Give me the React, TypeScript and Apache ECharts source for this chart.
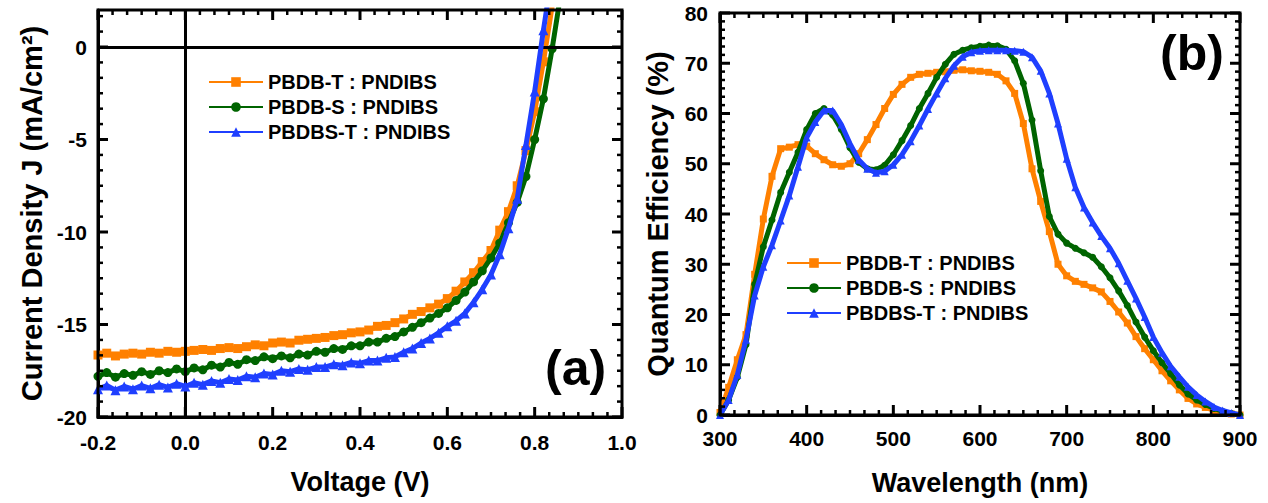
import React, { useEffect, useRef } from 'react';
import * as echarts from 'echarts';

const FONT = "'Liberation Sans', Arial, Helvetica, sans-serif";

const seriesNames = ['PBDB-T : PNDIBS', 'PBDB-S : PNDIBS', 'PBDBS-T : PNDIBS'];
const seriesColors = ['#FF8000', '#006400', '#1F3FFF'];
const seriesSymbols = ['rect', 'circle', 'triangle'];

// Panel (a): J-V
const voltage = [
  -0.2, -0.18, -0.16, -0.14, -0.12, -0.1, -0.08, -0.06, -0.04, -0.02,
  0, 0.02, 0.04, 0.06, 0.08, 0.1, 0.12, 0.14, 0.16, 0.18,
  0.2, 0.22, 0.24, 0.26, 0.28, 0.3, 0.32, 0.34, 0.36, 0.38,
  0.4, 0.42, 0.44, 0.46, 0.48, 0.5, 0.52, 0.54, 0.56, 0.58,
  0.6, 0.62, 0.64, 0.66, 0.68, 0.7, 0.72, 0.74, 0.76, 0.78,
  0.8, 0.82, 0.84, 0.86,
];
const jPBDBT = [
  -16.65, -16.55, -16.7, -16.6, -16.55, -16.6, -16.5, -16.55, -16.45, -16.5,
  -16.45, -16.4, -16.35, -16.4, -16.3, -16.25, -16.3, -16.2, -16.1, -16.15,
  -16.0, -15.95, -16.0, -15.85, -15.8, -15.75, -15.7, -15.6, -15.55, -15.45,
  -15.4, -15.3, -15.1, -15.05, -14.9, -14.7, -14.45, -14.3, -14.1, -13.9,
  -13.6, -13.2, -12.7, -12.2, -11.6, -11.0, -9.9, -8.9, -7.5, -5.6,
  -3.5, -0.8, 2.2, 5.0,
];
const jPBDBS = [
  -17.8, -17.6, -17.85, -17.65, -17.75, -17.55, -17.7, -17.5, -17.6, -17.4,
  -17.55, -17.35, -17.45, -17.2, -17.3, -17.05, -17.15, -16.9, -16.95, -16.75,
  -16.85, -16.7, -16.8, -16.6, -16.65, -16.45, -16.5, -16.3, -16.35, -16.15,
  -16.15, -15.95, -15.95, -15.75, -15.65, -15.4, -15.15, -14.9, -14.65, -14.4,
  -14.1, -13.7, -13.25, -12.7, -12.1, -11.4, -10.6, -9.5, -8.4, -7.0,
  -5.0, -2.8, -0.1, 2.9,
];
const jPBDBST = [
  -18.5, -18.3, -18.55, -18.35, -18.5, -18.3, -18.45, -18.25, -18.4, -18.2,
  -18.35, -18.15, -18.25, -18.05, -18.15, -17.95, -18.0, -17.8, -17.85, -17.65,
  -17.7, -17.5, -17.55, -17.4, -17.45, -17.3, -17.3, -17.15, -17.2, -17.05,
  -17.1, -16.95, -16.95, -16.8, -16.75, -16.5, -16.3, -16.0, -15.75, -15.45,
  -15.1, -14.8, -14.4, -13.8, -13.1, -12.3, -11.2, -9.8, -8.2, -5.3,
  -2.4, 0.9, 4.0, 7.0,
];

// Panel (b): EQE
const wavelength = [
  300, 310, 320, 330, 340, 350, 360, 370, 380, 390,
  400, 410, 420, 430, 440, 450, 460, 470, 480, 490,
  500, 510, 520, 530, 540, 550, 560, 570, 580, 590,
  600, 610, 620, 630, 640, 650, 660, 670, 680, 690,
  700, 710, 720, 730, 740, 750, 760, 770, 780, 790,
  800, 810, 820, 830, 840, 850, 860, 870, 880, 890,
  900,
];
const eqePBDBT = [
  0.5, 5.5, 11, 16, 28, 39, 47.5, 53, 53.3, 53.8,
  53.5, 52, 50.8, 49.8, 49.5, 50, 52, 54.8, 57.8, 61,
  63.8, 65.8, 67.2, 67.8, 68, 68.2, 68.3, 68.6, 68.7, 68.5,
  68.4, 68.2, 67.8, 66.5, 64, 58, 49, 42.5, 36.5, 30,
  27.7, 26.6, 26, 25.3, 24.5, 22.6, 20.5, 18.3, 15.6, 13.2,
  11, 8.8, 6.8, 5, 3.3, 2.2, 1.5, 0.9, 0.5, 0.2,
  0,
];
const eqePBDBS = [
  0, 3, 7.5, 14, 26, 33.5, 38.8, 44.3, 48.3, 52.3,
  56.8, 60, 61, 59.7, 56.8, 53.2, 50.3, 49, 48.8, 49.7,
  51.8, 54.6, 57.6, 61, 64, 67.2, 69.8, 71.8, 72.6, 73.1,
  73.4, 73.6, 73.5, 72.8, 70.5, 66, 58.7, 48.6, 39.5, 36,
  34.2, 33.2, 32.3, 31.4, 29.5, 27.3, 24.7, 21.8, 18.5, 15.5,
  12.8, 10.4, 8.2, 6, 4.2, 3, 2.1, 1.3, 0.7, 0.3,
  0,
];
const eqePBDBST = [
  0, 3, 8, 15, 23.8, 29.5, 33.8, 38.7, 43.7, 49.4,
  55.2, 58.3, 60.6, 60.6, 57.8, 54, 50.8, 49, 48.2, 48.5,
  49.8, 51.8, 54.5, 57.6, 60.9, 64, 67, 69.5, 71.3, 72.2,
  72.5, 72.6, 72.6, 72.6, 72.5, 72.3, 71.2, 68.5, 64, 58,
  51, 45.3, 41.3, 38.3, 35.6, 33.2, 30.2, 26.7, 23.2, 19.5,
  15.5, 12.4, 9.7, 7.6, 5.6, 4, 2.7, 1.6, 0.9, 0.4,
  0,
];

// Axis settings (ranges, major tick steps, minor subdivisions)
const jvX = { min: -0.2, max: 1.0, step: 0.2 };
const jvY = { min: -20, max: 2, step: 5 };
const eqeX = { min: 300, max: 900, step: 100 };
const eqeY = { min: 0, max: 80, step: 10 };
const MINOR_SPLIT = 6;

const jvSeries = [jPBDBT, jPBDBS, jPBDBST];
const eqeSeries = [eqePBDBT, eqePBDBS, eqePBDBST];

const labelStyle = { color: '#000', fontSize: 21, fontWeight: 'bold' as const, fontFamily: FONT };
const xNameStyle = { color: '#000', fontSize: 27, fontWeight: 'bold' as const, fontFamily: FONT };
const yNameStyle = { color: '#000', fontSize: 29, fontWeight: 'bold' as const, fontFamily: FONT };

// tick values along an axis: [value, isMajor]
function tickValues(ax: { min: number; max: number; step: number }) {
  const out: [number, boolean][] = [];
  const minor = ax.step / MINOR_SPLIT;
  const n = Math.floor((ax.max - ax.min) / minor + 1e-6);
  for (let i = 0; i <= n; i++) out.push([+(ax.min + i * minor).toFixed(6), i % MINOR_SPLIT === 0]);
  return out;
}

export default function App() {
  const ref = useRef<HTMLDivElement>(null);
  useEffect(() => {
    if (!ref.current) return;
    const chart = echarts.init(ref.current, undefined, { renderer: 'svg' });
    const jvData = jvSeries.map((s) => voltage.map((v, i) => [v, s[i]]));
    const eqeData = eqeSeries.map((s) => wavelength.map((w, i) => [w, s[i]]));
    const symSizeJV = [9, 9, 10];
    const symSizeEQE = [7, 7, 8];
    const axisLine = { show: true, onZero: false, lineStyle: { color: '#000', width: 3 } };
    const labels = [
      { type: 'text', left: 545, top: 343, z: 50, style: { text: '(a)', font: `bold 50px ${FONT}`, fill: '#000' } },
      { type: 'text', left: 1160, top: 28, z: 50, style: { text: '(b)', font: `bold 50px ${FONT}`, fill: '#000' } },
    ];
    const option: any = {
      animation: false,
      backgroundColor: '#fff',
      grid: [
        { left: 98, top: 10, width: 524, height: 407 },
        { left: 720, top: 13, width: 520, height: 402 },
      ],
      xAxis: [
        {
          type: 'value', gridIndex: 0, position: 'bottom', min: jvX.min, max: jvX.max, interval: jvX.step,
          splitLine: { show: false }, axisLine, axisTick: { show: false }, minorTick: { show: false },
          axisLabel: { show: true, margin: 15, ...labelStyle, formatter: (v: number) => v.toFixed(1) },
          name: 'Voltage (V)', nameLocation: 'middle', nameGap: 51, nameTextStyle: xNameStyle,
        },
        {
          type: 'value', gridIndex: 1, position: 'bottom', min: eqeX.min, max: eqeX.max, interval: eqeX.step,
          splitLine: { show: false }, axisLine, axisTick: { show: false }, minorTick: { show: false },
          axisLabel: { show: true, margin: 13, ...labelStyle },
          name: 'Wavelength (nm)', nameLocation: 'middle', nameGap: 54, nameTextStyle: xNameStyle,
        },
      ],
      yAxis: [
        {
          type: 'value', gridIndex: 0, position: 'left', min: jvY.min, max: jvY.max, interval: jvY.step,
          splitLine: { show: false }, axisLine, axisTick: { show: false }, minorTick: { show: false },
          axisLabel: { show: true, margin: 11, showMaxLabel: false, ...labelStyle },
          name: 'Current Density J (mA/cm²)', nameLocation: 'middle', nameGap: 52, nameTextStyle: yNameStyle,
        },
        {
          type: 'value', gridIndex: 1, position: 'left', min: eqeY.min, max: eqeY.max, interval: eqeY.step,
          splitLine: { show: false }, axisLine, axisTick: { show: false }, minorTick: { show: false },
          axisLabel: { show: true, margin: 12, ...labelStyle },
          name: 'Quantum Efficiency (%)', nameLocation: 'middle', nameGap: 48, nameTextStyle: yNameStyle,
        },
      ],
      legend: [
        {
          data: seriesNames, orient: 'vertical', left: 208, top: 72, itemWidth: 54, itemHeight: 12,
          itemGap: 5, padding: 0, textStyle: { color: '#000', fontSize: 20, fontWeight: 'bold', fontFamily: FONT },
        },
        {
          data: seriesNames, orient: 'vertical', left: 786, top: 253, itemWidth: 54, itemHeight: 12,
          itemGap: 5, padding: 0, textStyle: { color: '#000', fontSize: 20, fontWeight: 'bold', fontFamily: FONT },
        },
      ],
      graphic: labels,
      series: [
        ...jvData.map((d, k) => ({
          type: 'line', name: seriesNames[k], xAxisIndex: 0, yAxisIndex: 0, data: d,
          symbol: seriesSymbols[k], symbolSize: symSizeJV[k], showAllSymbol: true, clip: true,
          itemStyle: { color: seriesColors[k] }, lineStyle: { color: seriesColors[k], width: 5 },
          z: 3 + k,
          ...(k === 0
            ? {
                markLine: {
                  silent: true, symbol: ['none', 'none'], label: { show: false },
                  lineStyle: { color: '#000', width: 3, type: 'solid' },
                  data: [{ xAxis: 0 }, { yAxis: 0 }],
                },
              }
            : {}),
        })),
        ...eqeData.map((d, k) => ({
          type: 'line', name: seriesNames[k], xAxisIndex: 1, yAxisIndex: 1, data: d,
          symbol: seriesSymbols[k], symbolSize: symSizeEQE[k], showAllSymbol: true, clip: true,
          itemStyle: { color: seriesColors[k] }, lineStyle: { color: seriesColors[k], width: 5 },
          z: 3 + k,
        })),
      ],
    };
    chart.setOption(option);

    // Frame and inward ticks on all four sides, positioned through the chart's own scales.
    const frames: any[] = [];
    const panels = [
      { idx: 0, ax: jvX, ay: jvY },
      { idx: 1, ax: eqeX, ay: eqeY },
    ];
    panels.forEach(({ idx, ax, ay }) => {
      const finder = { xAxisIndex: idx, yAxisIndex: idx };
      const bl = chart.convertToPixel(finder, [ax.min, ay.min]) as number[];
      const tr = chart.convertToPixel(finder, [ax.max, ay.max]) as number[];
      if (!bl || !tr) return;
      const [x0, y0] = bl;
      const [x1, y1] = tr;
      frames.push({
        type: 'rect', silent: true, z: 40,
        shape: { x: x0, y: y1, width: x1 - x0, height: y0 - y1 },
        style: { fill: 'none', stroke: '#000', lineWidth: 3 },
      });
      tickValues(ax).forEach(([v, major]) => {
        const px = (chart.convertToPixel(finder, [v, ay.min]) as number[])[0];
        const len = major ? 10 : 5;
        const style = { stroke: '#000', lineWidth: major ? 3 : 2.5 };
        frames.push({ type: 'line', silent: true, z: 40, shape: { x1: px, y1: y0, x2: px, y2: y0 - len }, style });
        frames.push({ type: 'line', silent: true, z: 40, shape: { x1: px, y1: y1, x2: px, y2: y1 + len }, style });
      });
      tickValues(ay).forEach(([v, major]) => {
        const py = (chart.convertToPixel(finder, [ax.min, v]) as number[])[1];
        const len = major ? 10 : 5;
        const style = { stroke: '#000', lineWidth: major ? 3 : 2.5 };
        frames.push({ type: 'line', silent: true, z: 40, shape: { x1: x0, y1: py, x2: x0 + len, y2: py }, style });
        frames.push({ type: 'line', silent: true, z: 40, shape: { x1: x1, y1: py, x2: x1 - len, y2: py }, style });
      });
    });
    chart.setOption({ graphic: [...labels, ...frames] });

    return () => chart.dispose();
  }, []);
  return (
    <div
      ref={ref}
      style={{ position: 'absolute', left: 0, top: 0, width: 1268, height: 503, background: '#fff' }}
    />
  );
}
